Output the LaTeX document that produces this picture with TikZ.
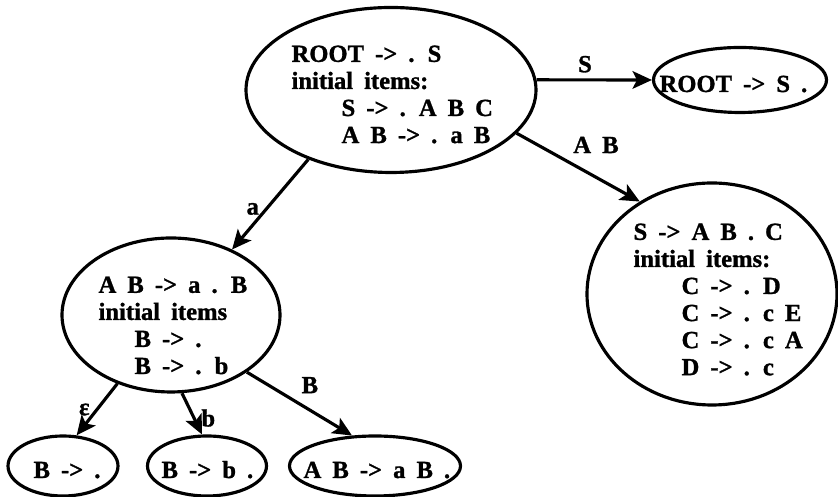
\documentclass[tikz,border=0pt]{standalone}
\usepackage{fontspec}
\setmainfont{Liberation Serif}[BoldFont={Liberation Serif Bold}, BoldFeatures={FakeBold=1.2}]
\usetikzlibrary{arrows.meta,shapes.geometric}

\begin{document}
\begin{tikzpicture}[
    font={\fontsize{14}{15.4}\selectfont\bfseries\spaceskip=0.45em\relax},
    line width=1.8pt,
    item/.style={draw, ellipse, inner sep=0pt},
    txt/.style={inner sep=0pt, align=left, anchor=north west},
    arr/.style={-{Stealth[length=11pt,width=10pt,inset=2.5pt]}}]
    \useasboundingbox (0,0) rectangle (16.76,9.94);
    % item sets: outline first, then the items inside
    \node[item, minimum width=5.8cm, minimum height=3.3cm] (root) at (7.82,8.14) {};
    \node[txt] (roottxt) at (5.80,9.06)
      {ROOT -> . S\\initial items:\\\hspace*{1cm}S -> . A B C\\\hspace*{1cm}A B -> . a B};
    \node[item, minimum width=3.46cm, minimum height=1.3cm] (final) at (14.80,8.34) {};
    \node[txt, anchor=base west] (finaltxt) at (13.16,8.10) {ROOT -> S .};
    \node[item, minimum width=5.0cm, minimum height=4.44cm] (abc) at (14.24,4.06) {};
    \node[txt] (abctxt) at (12.64,5.50)
      {S -> A B . C\\initial items:\\\hspace*{0.96cm}C -> . D\\\hspace*{0.96cm}C -> . c E\\
       \hspace*{0.96cm}C -> . c A\\\hspace*{0.96cm}D -> . c};
    \node[item, minimum width=4.36cm, minimum height=3.08cm] (anode) at (3.42,3.64) {};
    \node[txt] (anodetxt) at (1.94,4.44)
      {A B -> a . B\\initial items\\\hspace*{0.72cm}B -> .\\\hspace*{0.72cm}B -> . b};
    \foreach \name/\x/\w/\tx/\txt in {eps/1.26/2.2/0.64/{B -> .},
        bnode/4.14/2.38/3.20/{B -> b .},ab/7.50/3.42/6.04/{A B -> a B .}} {
      \node[item, minimum width=\w cm, minimum height=1.2cm] (\name) at (\x,0.62) {};
      \node[txt, anchor=base west] (\name txt) at (\tx,0.38) {\txt};
    }
    % transitions
    \draw[arr] (root.4) -- node[above, pos=0.42] {S} (final.west);
    \draw[arr] (root.-19) -- node[above right, pos=0.4] {A B} (abc.128);
    \draw[arr] (root.220) -- node[left, pos=0.55] {a} (anode.47);
    \draw[arr] (anode.232) -- node[left, pos=0.5] {ε} (eps.66);
    \draw[arr] (anode.278) -- node[right, pos=0.6] {b} (bnode.99);
    \draw[arr] (anode.-37) -- node[above right, pos=0.45] {B} (ab.127);
  \end{tikzpicture}
\end{document}
